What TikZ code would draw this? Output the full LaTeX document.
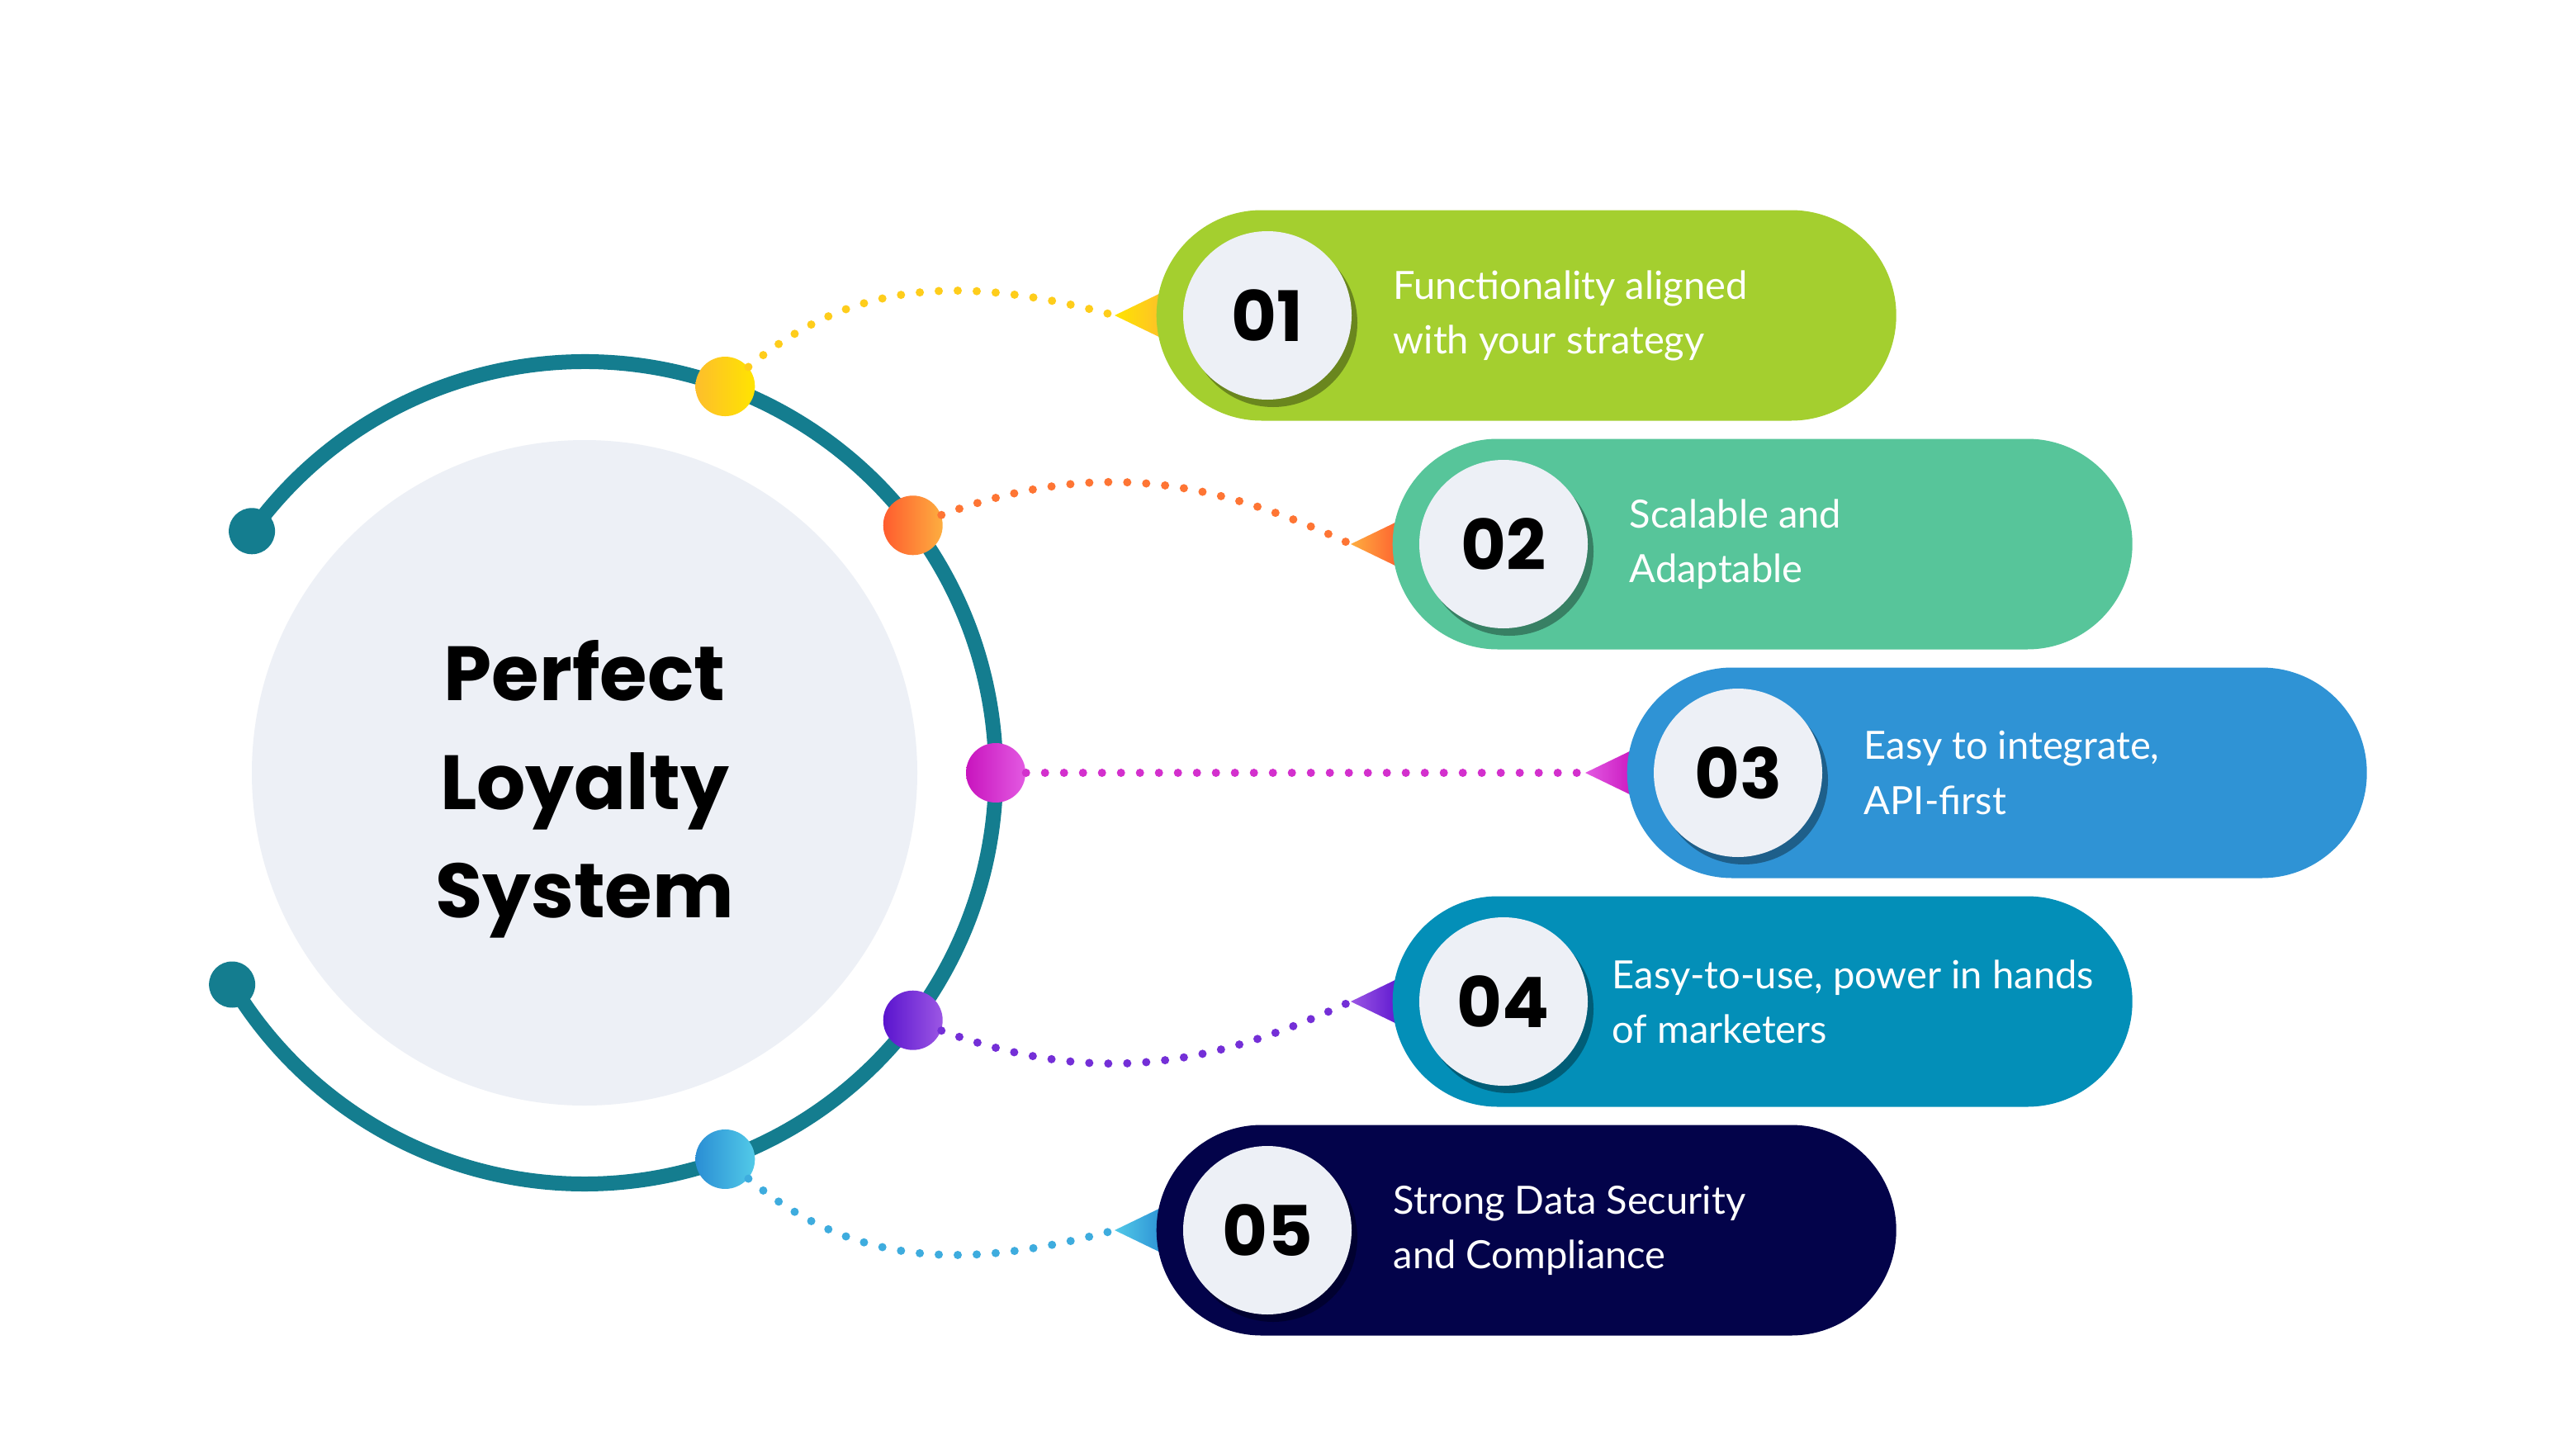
\documentclass[tikz,border=0pt]{standalone}
\usepackage{fontspec}
\setmainfont{Lato}
\newfontfamily\headfont{Poppins}
\usetikzlibrary{shadows}

\definecolor{ringteal}{HTML}{147D8F}
\definecolor{discgrey}{HTML}{EDF0F6}
\definecolor{pillA}{HTML}{A4CF2F}
\definecolor{pillB}{HTML}{57C59A}
\definecolor{pillC}{HTML}{2F93D5}
\definecolor{pillD}{HTML}{038FB8}
\definecolor{pillE}{HTML}{03034A}
\definecolor{yelA}{HTML}{FDBE2C}
\definecolor{yelB}{HTML}{FFE400}
\definecolor{orgA}{HTML}{FF5C2E}
\definecolor{orgB}{HTML}{FDAE40}
\definecolor{magA}{HTML}{C814BE}
\definecolor{magB}{HTML}{E35AE2}
\definecolor{purA}{HTML}{5A14CE}
\definecolor{purB}{HTML}{9C57E4}
\definecolor{bluA}{HTML}{2A8ED4}
\definecolor{bluB}{HTML}{52CAE8}

\tikzset{
  pill/.style={rectangle, anchor=west, minimum width=8.96cm, minimum height=2.55cm,
    rounded corners=1.275cm, inner sep=0pt},
  numdisc/.style={circle, fill=discgrey, minimum size=2.04cm, inner sep=0pt,
    font=\headfont\bfseries\fontsize{24}{24}\selectfont,
    drop shadow={shadow xshift=0.07cm, shadow yshift=-0.09cm, opacity=0.35, fill=black}},
  desc/.style={anchor=west, align=left, text=white, inner sep=0pt,
    font=\fontsize{13.4}{18.8}\selectfont},
  ringdot/.style={circle, minimum size=0.72cm, inner sep=0pt},
  enddot/.style={circle, fill=ringteal, minimum size=0.56cm, inner sep=0pt},
  link/.style={line width=0.1cm, line cap=round, dash pattern=on 0pt off 0.23cm},
}

\begin{document}
\begin{tikzpicture}
  \useasboundingbox[fill=white] (0,0) rectangle (31.2,-17.55);

  % centre disc and ring
  \node[circle, fill=discgrey, minimum size=8.06cm, inner sep=0pt] (core) at (7.08,-9.36) {};
  \node[align=center, font=\headfont\bfseries\fontsize{26.5}{37.5}\selectfont] (title)
    at (7.08,-9.56) {Perfect\\Loyalty\\System};
  \node[enddot] (e1) at ([shift={(144:4.98)}]core.center) {};
  \node[enddot] (e2) at ([shift={(-149:4.98)}]core.center) {};
  \draw[ringteal, line width=0.18cm] (e1.center) arc[start angle=144, end angle=-149, radius=4.98];

  % card anchors and pointer tips
  \coordinate (c1) at (14.00,-3.82);
  \coordinate (c2) at (16.86,-6.59);
  \coordinate (c3) at (19.70,-9.36);
  \coordinate (c4) at (16.86,-12.13);
  \coordinate (c5) at (14.00,-14.90);
  \coordinate (tip1) at ([xshift=-0.5cm]c1);
  \coordinate (tip2) at ([xshift=-0.5cm]c2);
  \coordinate (tip3) at ([xshift=-0.5cm]c3);
  \coordinate (tip4) at ([xshift=-0.5cm]c4);
  \coordinate (tip5) at ([xshift=-0.5cm]c5);

  \shade[left color=yelB, right color=yelA] (tip1) -- ++(0.62,0.3) -- ++(0,-0.6) -- cycle;
  \shade[left color=orgB, right color=orgA] (tip2) -- ++(0.62,0.3) -- ++(0,-0.6) -- cycle;
  \shade[left color=magB, right color=magA] (tip3) -- ++(0.62,0.3) -- ++(0,-0.6) -- cycle;
  \shade[left color=purB, right color=purA] (tip4) -- ++(0.62,0.3) -- ++(0,-0.6) -- cycle;
  \shade[left color=bluB, right color=bluA] (tip5) -- ++(0.62,0.3) -- ++(0,-0.6) -- cycle;

  % cards
  \node[pill, fill=pillA] (p1) at (c1) {};
  \node[pill, fill=pillB] (p2) at (c2) {};
  \node[pill, fill=pillC] (p3) at (c3) {};
  \node[pill, fill=pillD] (p4) at (c4) {};
  \node[pill, fill=pillE] (p5) at (c5) {};

  \node[numdisc] (n1) at ([xshift=1.35cm]p1.west) {01};
  \node[numdisc] (n2) at ([xshift=1.35cm]p2.west) {02};
  \node[numdisc] (n3) at ([xshift=1.35cm]p3.west) {03};
  \node[numdisc] (n4) at ([xshift=1.35cm]p4.west) {04};
  \node[numdisc] (n5) at ([xshift=1.35cm]p5.west) {05};

  \node[desc] (t1) at ([xshift=2.87cm]p1.west) {Functionality aligned\\with your strategy};
  \node[desc] (t2) at ([xshift=2.87cm]p2.west) {Scalable and\\Adaptable};
  \node[desc] (t3) at ([xshift=2.87cm]p3.west) {Easy to integrate,\\API-first};
  \node[desc] (t4) at ([xshift=2.66cm]p4.west) {Easy-to-use, power in hands\\of marketers};
  \node[desc] (t5) at ([xshift=2.87cm]p5.west) {Strong Data Security\\and Compliance};

  % dots on the ring
  \node[ringdot, left color=yelA, right color=yelB] (d1) at ([shift={(70:4.98)}]core.center) {};
  \node[ringdot, left color=orgA, right color=orgB] (d2) at ([shift={(37:4.98)}]core.center) {};
  \node[ringdot, left color=magA, right color=magB] (d3) at ([shift={(0:4.98)}]core.center) {};
  \node[ringdot, left color=purA, right color=purB] (d4) at ([shift={(-37:4.98)}]core.center) {};
  \node[ringdot, left color=bluA, right color=bluB] (d5) at ([shift={(-70:4.98)}]core.center) {};

  \draw[link, yelA!60!yelB] (d1) to[out=40, in=165] (tip1);
  \draw[link, orgA!70!orgB] (d2) to[out=20, in=155] (tip2);
  \draw[link, magA!60!magB] (d3) -- (tip3);
  \draw[link, purA!60!purB] (d4) to[out=-20, in=205] (tip4);
  \draw[link, bluA!50!bluB] (d5) to[out=-40, in=195] (tip5);
\end{tikzpicture}
\end{document}
